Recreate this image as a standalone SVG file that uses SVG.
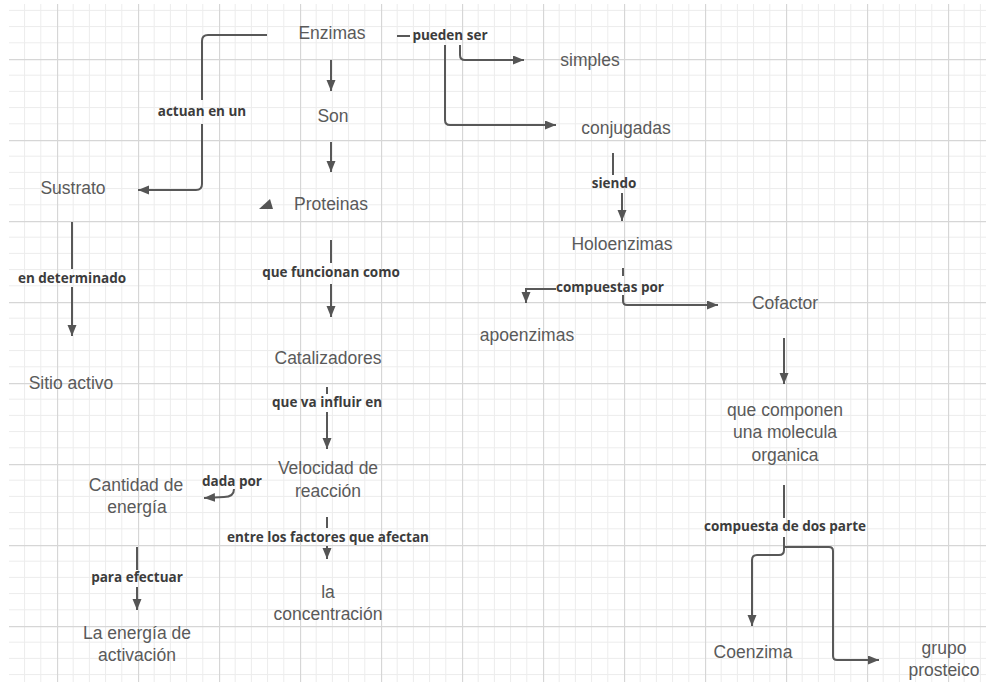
<svg xmlns="http://www.w3.org/2000/svg" width="986" height="682" viewBox="0 0 986 682">
  <defs>
    <!-- graph paper: minor lines every 16.2px, major every 81px -->
    <pattern id="grid" x="-24" y="-22" width="81" height="81" patternUnits="userSpaceOnUse">
      <path d="M16.2,0V81M32.4,0V81M48.6,0V81M64.8,0V81M0,16.2H81M0,32.4H81M0,48.6H81M0,64.8H81" stroke="#ececec" stroke-width="1" fill="none"/>
      <path d="M0.5,0V81M0,0.5H81" stroke="#d6d6d6" stroke-width="1.3" fill="none"/>
    </pattern>
    <marker id="arrow" markerUnits="userSpaceOnUse" markerWidth="12" markerHeight="10" refX="11" refY="4.5" orient="auto">
      <path d="M0,0 L11,4.5 L0,9 z" fill="#555"/>
    </marker>
    <style>
      .node { font-family: "Liberation Sans", Arial, sans-serif; font-size: 17.5px; fill: #5a5a5a; text-anchor: middle; }
      .lbl { font-family: "Open Sans", "Liberation Sans", sans-serif; font-weight: 700; font-size: 13.5px; fill: #3c3c3c; text-anchor: middle; }
      .wire { fill: none; stroke: #585858; stroke-width: 2; }
      .arr { marker-end: url(#arrow); }
    </style>
  </defs>

  <rect x="0" y="0" width="986" height="682" fill="#ffffff"/>
  <rect x="9" y="4" width="977" height="678" fill="url(#grid)"/>

  <!-- connectors -->
  <g id="connectors">
    <path class="wire" d="M267,35 L208,35 Q202,35 202,41 L202,100"/>
    <path class="wire arr" d="M202,124 L202,184 Q202,190 196,190 L138,190"/>
    <path class="wire arr" d="M331,60 L331,91"/>
    <path class="wire arr" d="M331,142 L331,172"/>
    <polygon points="259,209 273,209 270,199" fill="#555"/>
    <path class="wire" d="M331,240 L331,263"/>
    <path class="wire arr" d="M331,284 L331,317"/>
    <path class="wire" d="M327,387 L327,394"/>
    <path class="wire arr" d="M327,412 L327,449"/>
    <path class="wire arr" d="M234,489 Q234,497 224,497 L204,498"/>
    <path class="wire" d="M327,517 L327,528"/>
    <path class="wire arr" d="M327,546 L327,559"/>
    <path class="wire" d="M137,547 L137,570"/>
    <path class="wire arr" d="M137,587 L137,610"/>
    <path class="wire" d="M72,222 L72,269"/>
    <path class="wire arr" d="M72,287 L72,336"/>
    <path class="wire" d="M397,36 L410,36"/>
    <path class="wire arr" d="M460,45 L460,55 Q460,60 465,60 L524,60"/>
    <path class="wire arr" d="M445,45 L445,120 Q445,125 450,125 L556,125"/>
    <path class="wire" d="M613,153 L613,175"/>
    <path class="wire arr" d="M622,193 L622,221"/>
    <path class="wire" d="M623,268 L623,276"/>
    <path class="wire arr" d="M556,289 L526,289 L526,303"/>
    <path class="wire arr" d="M623,295 L623,301 Q623,305 627,305 L718,305"/>
    <path class="wire arr" d="M784,338 L784,384"/>
    <path class="wire" d="M784,485 L784,518"/>
    <path class="wire arr" d="M784,537 L784,550 Q784,555 779,555 L757,555 Q752,555 752,560 L752,626"/>
    <path class="wire arr" d="M784,547 L829,547 Q833,547 833,551 L833,656 Q833,660 837,660 L879,660"/>
  </g>

  <!-- connector labels -->
  <g id="labels">
    <text class="lbl" x="202" y="116">actuan en un</text>
    <text class="lbl" x="331" y="277">que funcionan como</text>
    <text class="lbl" x="327" y="407">que va influir en</text>
    <text class="lbl" x="232" y="486">dada por</text>
    <text class="lbl" x="328" y="542">entre los factores que afectan</text>
    <text class="lbl" x="137" y="582">para efectuar</text>
    <text class="lbl" x="72" y="283">en determinado</text>
    <text class="lbl" x="450" y="40">pueden ser</text>
    <text class="lbl" x="614" y="188">siendo</text>
    <text class="lbl" x="610" y="292">compuestas por</text>
    <text class="lbl" x="785" y="531">compuesta de dos parte</text>
  </g>

  <!-- concept nodes -->
  <g id="n-enzimas"><text class="node" x="332" y="39">Enzimas</text></g>
  <g id="n-son"><text class="node" x="333" y="122">Son</text></g>
  <g id="n-proteinas"><text class="node" x="331" y="210">Proteinas</text></g>
  <g id="n-sustrato"><text class="node" x="73" y="194">Sustrato</text></g>
  <g id="n-sitio"><text class="node" x="71" y="389">Sitio activo</text></g>
  <g id="n-catalizadores"><text class="node" x="328" y="364">Catalizadores</text></g>
  <g id="n-velocidad"><text class="node" x="328" y="474">Velocidad de</text><text class="node" x="328" y="497">reacción</text></g>
  <g id="n-cantidad"><text class="node" x="136" y="491">Cantidad de</text><text class="node" x="137" y="513">energía</text></g>
  <g id="n-activacion"><text class="node" x="137" y="639">La energía de</text><text class="node" x="137" y="661">activación</text></g>
  <g id="n-concentracion"><text class="node" x="328" y="598">la</text><text class="node" x="328" y="620">concentración</text></g>
  <g id="n-simples"><text class="node" x="590" y="66">simples</text></g>
  <g id="n-conjugadas"><text class="node" x="626" y="134">conjugadas</text></g>
  <g id="n-holoenzimas"><text class="node" x="622" y="250">Holoenzimas</text></g>
  <g id="n-apoenzimas"><text class="node" x="527" y="341">apoenzimas</text></g>
  <g id="n-cofactor"><text class="node" x="785" y="309">Cofactor</text></g>
  <g id="n-organica"><text class="node" x="785" y="416">que componen</text><text class="node" x="785" y="438">una molecula</text><text class="node" x="785" y="461">organica</text></g>
  <g id="n-coenzima"><text class="node" x="753" y="658">Coenzima</text></g>
  <g id="n-prosteico"><text class="node" x="944" y="654">grupo</text><text class="node" x="944" y="676">prosteico</text></g>
</svg>
